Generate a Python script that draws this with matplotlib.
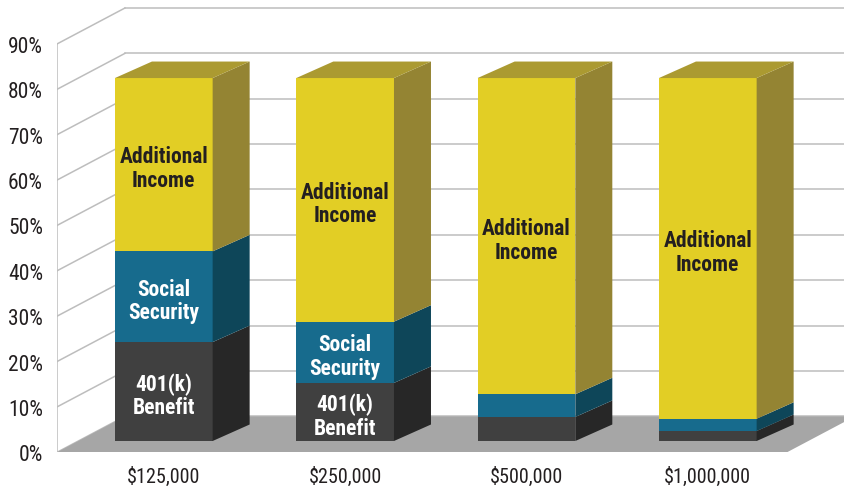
import matplotlib
matplotlib.use("Agg")
import matplotlib.pyplot as plt
from matplotlib.patches import Polygon
from matplotlib import font_manager

# ---- data ----
categories = ["$125,000", "$250,000", "$500,000", "$1,000,000"]
k401 = [21.8, 12.8, 5.3, 2.2]
social_security = [20.0, 13.5, 5.0, 2.7]
additional_income = [38.2, 53.7, 69.7, 75.1]
series_names = ["401(k)\nBenefit", "Social\nSecurity", "Additional\nIncome"]
yticks = [0, 10, 20, 30, 40, 50, 60, 70, 80, 90]
ytick_labels = [f"{v}%" for v in yticks]

# ---- style ----
avail = {f.name for f in font_manager.fontManager.ttflist}
cands = ["Roboto Condensed", "Archivo Narrow", "Barlow Semi Condensed",
         "Asap Condensed", "Liberation Sans Narrow"]
fams = [c for c in cands if c in avail][:1] + ["DejaVu Sans"]
plt.rcParams["font.family"] = fams

front_cols = ["#404040", "#176b8d", "#e2ce25"]
side_cols = ["#272727", "#0e4659", "#948433"]
top_col = "#ab9a31"
text_cols = ["white", "white", "#231f20"]
grid_col = "#bdbdbd"
floor_col = "#a6a6a6"

W, H = 844, 489
fig = plt.figure(figsize=(W / 100, H / 100), dpi=100)
ax = fig.add_axes([57 / W, (H - 453.3) / H, 1 - 57 / W, 453.3 / H])
px_per_cat = 181.33
x0_px = 163.8
xlim = ((57 - x0_px) / px_per_cat, (W - x0_px) / px_per_cat)
px_per_pct = 4.537
ylim = (0, 453.3 / px_per_pct)
ax.set_xlim(*xlim)
ax.set_ylim(*ylim)
for s in ax.spines.values():
    s.set_visible(False)

WALL_DX, WALL_DY = 68 / px_per_cat, 36 / px_per_pct
BAR_DX, BAR_DY = 37 / px_per_cat, 16.5 / px_per_pct
BAR_BASE = (453.3 - 442.0) / px_per_pct
HALF_W = 97.7 / 2 / px_per_cat
FLOOR_L = xlim[0]
FLOOR_R = (787 - x0_px) / px_per_cat

ax.plot([FLOOR_L, FLOOR_L], [0, yticks[-1]], color=grid_col, lw=1.1, zorder=1)
for v in yticks:
    ax.plot([FLOOR_L, FLOOR_L + WALL_DX], [v, v + WALL_DY], color=grid_col, lw=1.1, zorder=1)
    ax.plot([FLOOR_L + WALL_DX, xlim[1] + 1], [v + WALL_DY, v + WALL_DY],
            color=grid_col, lw=1.1, zorder=1)

ax.add_patch(Polygon([(FLOOR_L, 0), (FLOOR_R, 0), (FLOOR_R + WALL_DX, WALL_DY),
                      (FLOOR_L + WALL_DX, WALL_DY)], closed=True,
                     facecolor=floor_col, edgecolor="none", zorder=2))

series = [k401, social_security, additional_income]
for i in range(len(categories)):
    xl, xr = i - HALF_W, i + HALF_W
    bottom = BAR_BASE
    for j, vals in enumerate(series):
        top = bottom + vals[i]
        ax.add_patch(Polygon([(xl, bottom), (xr, bottom), (xr, top), (xl, top)], closed=True,
                             facecolor=front_cols[j], edgecolor="none", zorder=3))
        ax.add_patch(Polygon([(xr, bottom), (xr + BAR_DX, bottom + BAR_DY),
                              (xr + BAR_DX, top + BAR_DY), (xr, top)], closed=True,
                             facecolor=side_cols[j], edgecolor="none", zorder=3))
        if vals[i] > 8:
            ax.text(i, (bottom + top) / 2 - 0.8, series_names[j], ha="center", va="center",
                    fontsize=15.5, fontweight="bold", color=text_cols[j],
                    linespacing=1.1, zorder=5)
        bottom = top
    ax.add_patch(Polygon([(xl, bottom), (xr, bottom), (xr + BAR_DX, bottom + BAR_DY),
                          (xl + BAR_DX, bottom + BAR_DY)], closed=True,
                         facecolor=top_col, edgecolor="none", zorder=3))

ax.set_yticks(yticks)
ax.set_yticklabels(ytick_labels)
ax.set_xticks(range(len(categories)))
ax.set_xticklabels(categories)
ax.tick_params(axis="both", length=0, labelcolor="#231f20")
ax.tick_params(axis="y", pad=10, labelsize=15.5)
ax.tick_params(axis="x", pad=10, labelsize=14.5)

fig.savefig("out.png", dpi=100)
